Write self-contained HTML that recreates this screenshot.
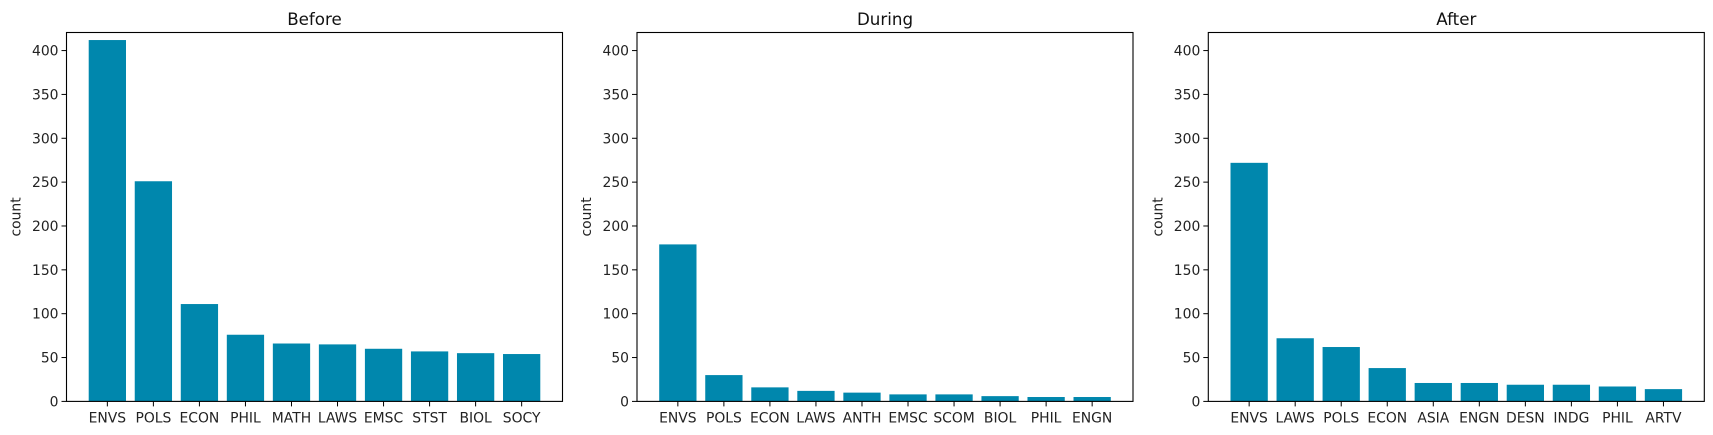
<!DOCTYPE html>
<html><head><meta charset="utf-8"><style>
html,body{margin:0;padding:0;background:#fff;}
svg{display:block;font-family:"DejaVu Sans","Liberation Sans",sans-serif;}
</style></head><body>
<svg id="chart" width="1713" height="435" viewBox="0 0 1713 435" xmlns="http://www.w3.org/2000/svg"></svg>
<script>
const titles = ["Before", "During", "After"];
const catsBefore = ["ENVS","POLS","ECON","PHIL","MATH","LAWS","EMSC","STST","BIOL","SOCY"];
const valsBefore = [412, 251, 111, 76, 66, 65, 60, 57, 55, 54];
const catsDuring = ["ENVS","POLS","ECON","LAWS","ANTH","EMSC","SCOM","BIOL","PHIL","ENGN"];
const valsDuring = [179, 30, 16, 12, 10, 8, 8, 6, 5, 5];
const catsAfter = ["ENVS","LAWS","POLS","ECON","ASIA","ENGN","DESN","INDG","PHIL","ARTV"];
const valsAfter = [272, 72, 62, 38, 21, 21, 19, 19, 17, 14];
const yTicks = [0, 50, 100, 150, 200, 250, 300, 350, 400];
const yMax = 420.6;

const svg = document.getElementById('chart');
const NS = 'http://www.w3.org/2000/svg';
function mk(tag, attrs, parent) {
  const e = document.createElementNS(NS, tag);
  for (const k in attrs) e.setAttribute(k, attrs[k]);
  parent.appendChild(e);
  return e;
}
const panels = [
  {left: 66.5, cats: catsBefore, vals: valsBefore},
  {left: 637, cats: catsDuring, vals: valsDuring},
  {left: 1208.3, cats: catsAfter, vals: valsAfter}
];
const topY = 32.5, bottomY = 401.4, panelW = 496;
function yScale(v) { return bottomY - (v / yMax) * (bottomY - topY); }

panels.forEach((p, pi) => {
  const g = mk('g', {}, svg);
  
  
  const unit = (panelW - 2 * 40.85) / (p.cats.length - 1);
  function xScale(i) { return p.left + 40.85 + i * unit; }
  const bw = unit * 0.81;
  p.vals.forEach((v, i) => {
    const r = mk('rect', {x: xScale(i) - bw / 2, y: yScale(v), width: bw, height: bottomY - yScale(v), fill: '#0087ad'}, g);
    
    
    mk('line', {x1: xScale(i), x2: xScale(i), y1: bottomY, y2: bottomY + 5, stroke: '#000', 'stroke-width': 1}, g);
    const t = mk('text', {x: xScale(i), y: bottomY + 21, 'text-anchor': 'middle', 'font-size': 13.9, fill: '#222'}, g);
    t.textContent = p.cats[i];
    
    
  });
  yTicks.forEach(v => {
    const y = yScale(v);
    mk('line', {x1: p.left - 5, x2: p.left, y1: y, y2: y, stroke: '#000', 'stroke-width': 1}, g);
    const t = mk('text', {x: p.left - 8, y: y + 5, 'text-anchor': 'end', 'font-size': 13.9, fill: '#222'}, g);
    t.textContent = v;
    
    
  });
  const frame = mk('rect', {x: p.left, y: topY, width: panelW, height: bottomY - topY, fill: 'none', stroke: '#000', 'stroke-width': 1.1}, g);
  
  
  const yl = mk('text', {x: 0, y: 0, transform: 'translate(' + (p.left - 46) + ',' + ((topY + bottomY) / 2) + ') rotate(-90)', 'text-anchor': 'middle', 'font-size': 13.9, fill: '#222'}, g);
  yl.textContent = 'count';
  
  
  const tt = mk('text', {x: p.left + panelW / 2, y: 25, 'text-anchor': 'middle', 'font-size': 16.7, fill: '#111'}, g);
  tt.textContent = titles[pi];
  
  
});
</script>
</body></html>
